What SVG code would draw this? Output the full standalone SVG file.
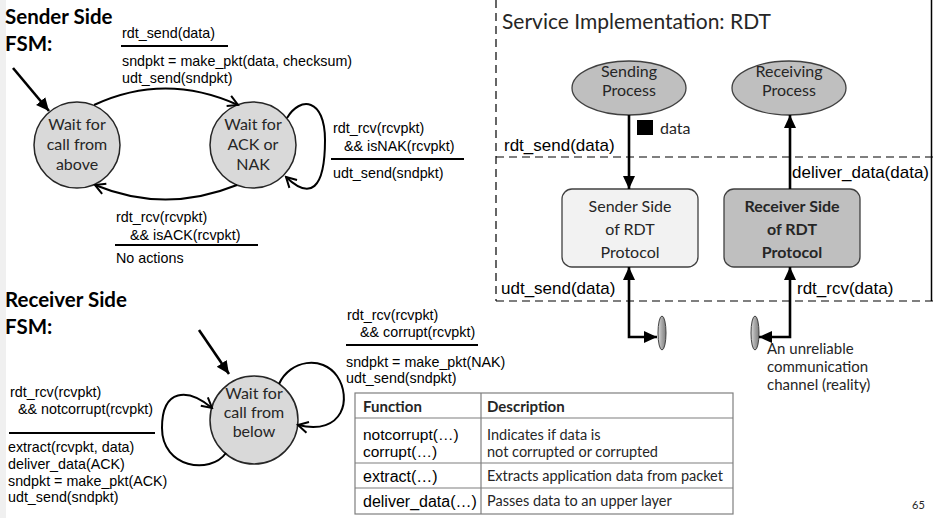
<svg xmlns="http://www.w3.org/2000/svg" width="933" height="518" viewBox="0 0 933 518">
<defs>
<style>
.bg{fill:#ffffff}
.ttl{font-family:Lato,"Liberation Sans",sans-serif;font-weight:bold;font-size:20.5px;fill:#000}
.cal{font-family:Lato,"Liberation Sans",sans-serif;fill:#262626}
.ar{font-family:"Liberation Sans",Arial,sans-serif;fill:#000}
.lab{font-size:14.3px}
.st{fill:#d9d9d9;stroke:#262626;stroke-width:1.5}
.proc{fill:#bfbfbf;stroke:#404040;stroke-width:1.3}
.conn{fill:none;stroke:#000;stroke-width:2}
.thick{fill:none;stroke:#000;stroke-width:2.6}
.bar{stroke:#000;stroke-width:2}
.dash{stroke:#000;stroke-width:1.2;stroke-dasharray:8 5;fill:none}
.tbl{fill:none;stroke:#7f7f7f;stroke-width:1.2}
</style>
<marker id="open" markerUnits="userSpaceOnUse" markerWidth="14" markerHeight="14" viewBox="0 0 14 14" refX="12" refY="7" orient="auto">
<path d="M2,1.5 L12,7 L2,12.5" fill="none" stroke="#000" stroke-width="2"/>
</marker>
<marker id="tri" markerUnits="userSpaceOnUse" markerWidth="14" markerHeight="14" viewBox="0 0 14 14" refX="13" refY="7" orient="auto-start-reverse">
<path d="M0,1 L13,7 L0,13 z" fill="#000"/>
</marker>
<linearGradient id="chan" x1="0" y1="0" x2="1" y2="0">
<stop offset="0" stop-color="#d9d9d9"/>
<stop offset="0.5" stop-color="#a6a6a6"/>
<stop offset="1" stop-color="#7f7f7f"/>
</linearGradient>
</defs>
<rect class="bg" x="0" y="0" width="933" height="518"/>
<rect x="0" y="0" width="6" height="518" fill="#f0f0f0"/>

<!-- Sender side FSM -->
<g id="sender-title">
<text class="ttl" x="5" y="24">Sender Side</text>
<text class="ttl" x="5" y="51">FSM:</text>
</g>
<g id="s-wait-above">
<circle class="st" cx="77" cy="145" r="43"/>
<text class="cal" font-size="16" text-anchor="middle" x="77" y="130">Wait for</text>
<text class="cal" font-size="16" text-anchor="middle" x="77" y="150">call from</text>
<text class="cal" font-size="16" text-anchor="middle" x="77" y="170">above</text>
</g>
<g id="s-wait-ack">
<circle class="st" cx="253" cy="145" r="43"/>
<text class="cal" font-size="16" text-anchor="middle" x="253" y="130">Wait for</text>
<text class="cal" font-size="16" text-anchor="middle" x="253" y="150">ACK or</text>
<text class="cal" font-size="16" text-anchor="middle" x="253" y="170">NAK</text>
</g>

<!-- Receiver side FSM -->
<g id="receiver-title">
<text class="ttl" x="5" y="307">Receiver Side</text>
<text class="ttl" x="5" y="334">FSM:</text>
</g>
<g id="r-wait-below">
<circle class="st" cx="254" cy="420" r="44"/>
<text class="cal" font-size="16" text-anchor="middle" x="254" y="399">Wait for</text>
<text class="cal" font-size="16" text-anchor="middle" x="254" y="418">call from</text>
<text class="cal" font-size="16" text-anchor="middle" x="254" y="437">below</text>
</g>

<!-- Service implementation panel -->
<g id="panel">
<line class="dash" x1="496" y1="0" x2="496" y2="301"/>
<line class="dash" x1="496" y1="157" x2="933" y2="157"/>
<line class="dash" x1="496" y1="301" x2="933" y2="301"/>
<line x1="931.5" y1="0" x2="931.5" y2="301" stroke="#000" stroke-width="1.5"/>
<text class="cal" font-size="21" x="502" y="29" fill="#262626">Service Implementation: RDT</text>
</g>
<g id="sending-process">
<ellipse class="proc" cx="629" cy="88" rx="57" ry="27"/>
<text class="cal" font-size="16" text-anchor="middle" x="629" y="77">Sending</text>
<text class="cal" font-size="16" text-anchor="middle" x="629" y="96">Process</text>
</g>
<g id="receiving-process">
<ellipse class="proc" cx="789" cy="88" rx="57" ry="27"/>
<text class="cal" font-size="16" text-anchor="middle" x="789" y="77">Receiving</text>
<text class="cal" font-size="16" text-anchor="middle" x="789" y="96">Process</text>
</g>
<g id="sender-rdt">
<rect x="562" y="189" width="136" height="78" rx="10" fill="#f2f2f2" stroke="#404040" stroke-width="1.3"/>
<text class="cal" font-size="16" text-anchor="middle" x="630" y="212">Sender Side</text>
<text class="cal" font-size="16" text-anchor="middle" x="630" y="235">of RDT</text>
<text class="cal" font-size="16" text-anchor="middle" x="630" y="258">Protocol</text>
</g>
<g id="receiver-rdt">
<rect x="724" y="189" width="136" height="78" rx="10" fill="#bfbfbf" stroke="#404040" stroke-width="1.3"/>
<text class="cal" font-size="16" font-weight="bold" text-anchor="middle" x="792" y="212">Receiver Side</text>
<text class="cal" font-size="16" font-weight="bold" text-anchor="middle" x="792" y="235">of RDT</text>
<text class="cal" font-size="16" font-weight="bold" text-anchor="middle" x="792" y="258">Protocol</text>
</g>
<g id="channel-out">
<ellipse cx="662" cy="333" rx="4" ry="17" fill="url(#chan)" stroke="#404040" stroke-width="1"/>
</g>
<g id="channel-in">
<ellipse cx="755" cy="333" rx="4" ry="17" fill="url(#chan)" stroke="#404040" stroke-width="1"/>
<text class="cal" font-size="15" x="767" y="354">An unreliable</text>
<text class="cal" font-size="15" x="767" y="372">communication</text>
<text class="cal" font-size="15" x="767" y="390">channel (reality)</text>
</g>
<g id="data-token">
<rect x="637" y="120" width="16" height="15" fill="#000"/>
<text class="cal" font-size="16" x="660" y="134">data</text>
</g>

<!-- Connectors -->
<g id="connectors">
<line class="thick" x1="13" y1="68" x2="49" y2="111" marker-end="url(#tri)"/>
<path class="conn" d="M94,105 Q165,72 238,105" marker-end="url(#open)"/>
<path class="conn" d="M237,185 Q165,214 95,185" marker-end="url(#open)"/>
<path class="conn" d="M287,118 C300,96 325,98 325,140 C325,190 310,200 286,177" marker-end="url(#open)"/>
<line class="thick" x1="199" y1="330" x2="229" y2="374" marker-end="url(#tri)"/>
<path class="conn" d="M226,453 C210,475 162,468 162,428 C162,388 188,388 212,408" marker-end="url(#open)"/>
<path class="conn" d="M279,384 C290,360 322,355 337,376 C352,398 344,436 298,425" marker-end="url(#open)"/>
<line class="thick" x1="629" y1="115" x2="629" y2="189" marker-end="url(#tri)"/>
<line class="thick" x1="790" y1="189" x2="790" y2="115" marker-end="url(#tri)"/>
<polyline class="thick" points="629,267 629,337 657,337" marker-start="url(#tri)" marker-end="url(#tri)"/>
<polyline class="thick" points="790,267 790,337 759,337" marker-start="url(#tri)" marker-end="url(#tri)"/>
</g>

<!-- Transition labels -->
<g id="labels">
<text class="ar lab" x="122" y="38">rdt_send(data)</text>
<line class="bar" x1="121" y1="46" x2="228" y2="46"/>
<text class="ar lab" x="122" y="66">sndpkt = make_pkt(data, checksum)</text>
<text class="ar lab" x="122" y="83">udt_send(sndpkt)</text>

<text class="ar lab" x="333" y="133">rdt_rcv(rcvpkt)</text>
<text class="ar lab" x="344" y="151">&amp;&amp; isNAK(rcvpkt)</text>
<line class="bar" x1="331" y1="159" x2="464" y2="159"/>
<text class="ar lab" x="333" y="178">udt_send(sndpkt)</text>

<text class="ar lab" x="116" y="222">rdt_rcv(rcvpkt)</text>
<text class="ar lab" x="130" y="240">&amp;&amp; isACK(rcvpkt)</text>
<line class="bar" x1="115" y1="245" x2="258" y2="245"/>
<text class="ar lab" x="116" y="263">No actions</text>

<text class="ar lab" x="10" y="397">rdt_rcv(rcvpkt)</text>
<text class="ar lab" x="18" y="414">&amp;&amp; notcorrupt(rcvpkt)</text>
<line class="bar" x1="9" y1="433" x2="155" y2="433"/>
<text class="ar lab" x="8" y="452">extract(rcvpkt, data)</text>
<text class="ar lab" x="8" y="469">deliver_data(ACK)</text>
<text class="ar lab" x="8" y="486">sndpkt = make_pkt(ACK)</text>
<text class="ar lab" x="8" y="502">udt_send(sndpkt)</text>

<text class="ar lab" x="347" y="320">rdt_rcv(rcvpkt)</text>
<text class="ar lab" x="360" y="337">&amp;&amp; corrupt(rcvpkt)</text>
<line class="bar" x1="346" y1="345" x2="478" y2="345"/>
<text class="ar lab" x="346" y="367">sndpkt = make_pkt(NAK)</text>
<text class="ar lab" x="346" y="383">udt_send(sndpkt)</text>

<text class="ar" font-size="17" x="504" y="151">rdt_send(data)</text>
<text class="ar" font-size="17" x="792" y="178">deliver_data(data)</text>
<text class="ar" font-size="17" x="501" y="294">udt_send(data)</text>
<text class="ar" font-size="17" x="797" y="294">rdt_rcv(data)</text>
</g>

<!-- Function table -->
<g id="table">
<rect x="355" y="393" width="378" height="121" fill="#fff" stroke="#7f7f7f" stroke-width="1.2"/>
<line class="tbl" x1="355" y1="418" x2="733" y2="418"/>
<line class="tbl" x1="355" y1="463" x2="733" y2="463"/>
<line class="tbl" x1="355" y1="488" x2="733" y2="488"/>
<line class="tbl" x1="481" y1="393" x2="481" y2="514"/>
<text class="cal" font-size="15" font-weight="bold" x="363" y="412" fill="#000">Function</text>
<text class="cal" font-size="15" font-weight="bold" x="487" y="412" fill="#000">Description</text>
<text class="ar" font-size="15.5" x="363" y="440">notcorrupt(…)</text>
<text class="ar" font-size="15.5" x="363" y="457">corrupt(…)</text>
<text class="ar" font-size="16" x="363" y="482">extract(…)</text>
<text class="ar" font-size="16" x="363" y="507">deliver_data(…)</text>
<text class="cal" font-size="14.5" x="487" y="440" fill="#000">Indicates if data is</text>
<text class="cal" font-size="14.5" x="487" y="457" fill="#000">not corrupted or corrupted</text>
<text class="cal" font-size="14.5" x="487" y="481" fill="#000">Extracts application data from packet</text>
<text class="cal" font-size="14.5" x="487" y="506" fill="#000">Passes data to an upper layer</text>
</g>
<text class="cal" font-size="11" x="912" y="509" fill="#8c8c8c">65</text>
</svg>
